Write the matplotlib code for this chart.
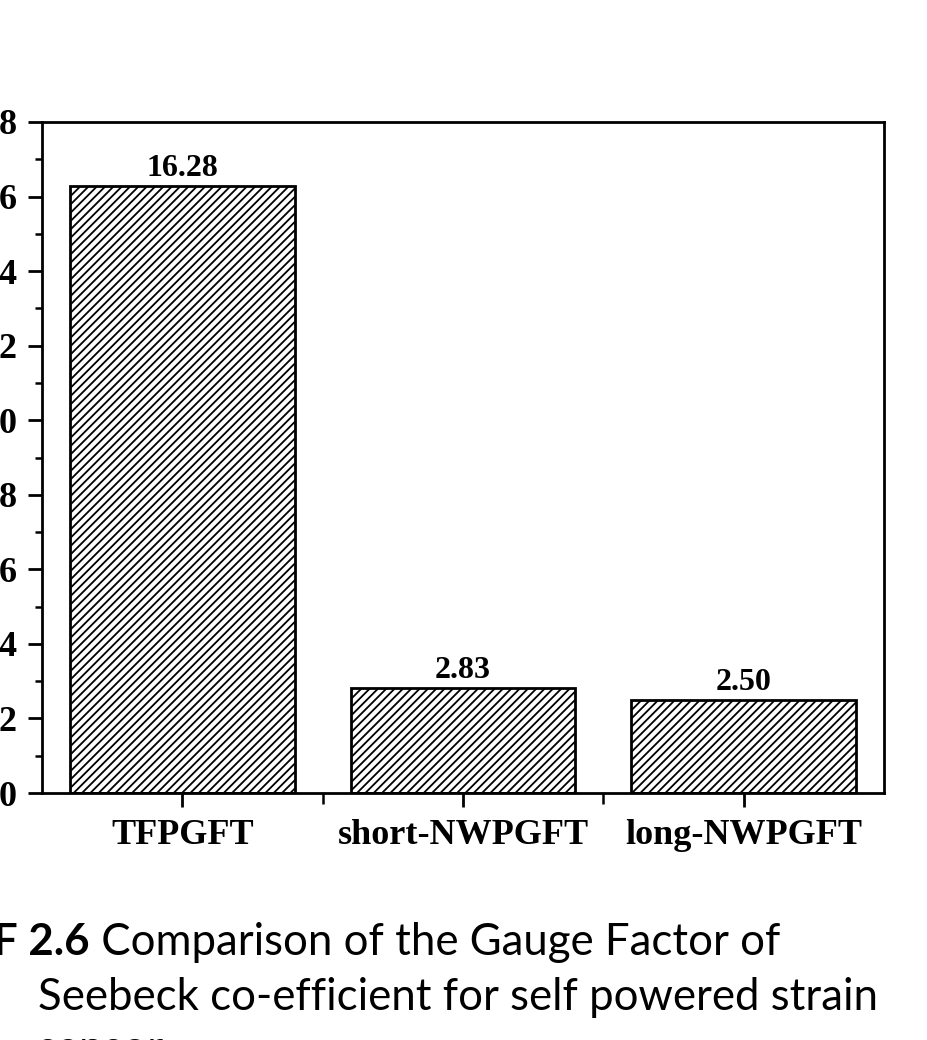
import matplotlib
matplotlib.use("Agg")
import matplotlib.pyplot as plt
from matplotlib.ticker import MultipleLocator, FixedLocator

categories = ["TFPGFT", "short-NWPGFT", "long-NWPGFT"]
gauge_factor = [16.28, 2.83, 2.50]
y_ticks = [0, 2, 4, 6, 8, 10, 12, 14, 16, 18]
caption_tag = "F 2.6"
caption_line1 = " Comparison of the Gauge Factor of"
caption_line2 = "Seebeck co-efficient for self powered strain"
caption_line3 = "sensor"

W, H = 928, 1040
plt.rcParams["hatch.linewidth"] = 1.3
serif = ["Liberation Serif", "DejaVu Serif"]

fig = plt.figure(figsize=(W / 100, H / 100), dpi=100)
ax = fig.add_axes([42 / W, 1 - 793 / H, (884 - 42) / W, (793 - 122) / H])

x = list(range(len(categories)))
bars = ax.bar(x, gauge_factor, width=0.8, color="white", edgecolor="black",
              hatch="////", linewidth=2.0, zorder=2)

for xi, v in zip(x, gauge_factor):
    ax.annotate(f"{v:.2f}", (xi, v), xytext=(0, 2), textcoords="offset points",
                ha="center", va="bottom", fontsize=23, fontweight="bold",
                family=serif)

ax.set_xlim(-0.5, 2.5)
ax.set_ylim(0, 18)
ax.set_xticks(x)
ax.set_xticklabels(categories, fontsize=26, fontweight="bold", family=serif)
ax.xaxis.set_minor_locator(FixedLocator([0.5, 1.5]))
ax.set_yticks(y_ticks)
ax.set_yticklabels([str(t) for t in y_ticks], fontsize=26, fontweight="bold",
                   family=serif)
ax.yaxis.set_minor_locator(MultipleLocator(1))

ax.tick_params(axis="y", which="major", direction="out", length=10, width=2,
               pad=8)
ax.tick_params(axis="y", which="minor", direction="out", length=5, width=1.8)
ax.tick_params(axis="x", which="major", direction="out", length=10, width=2,
               pad=9)
ax.tick_params(axis="x", which="minor", direction="out", length=8, width=1.8)
for s in ax.spines.values():
    s.set_linewidth(2.0)

# figure caption beneath the plot
cap_font = ["Lato", "DejaVu Sans"]
t1 = fig.text(-7 / W, 1 - 955 / H, caption_tag, fontsize=31.5, fontweight="bold",
              family=cap_font, ha="left", va="baseline")
fig.canvas.draw()
bb = t1.get_window_extent()
fig.text(bb.x1 / W, 1 - 955 / H, caption_line1, fontsize=31.5, family=cap_font,
         ha="left", va="baseline")
fig.text(38 / W, 1 - 1010 / H, caption_line2, fontsize=31.5, family=cap_font,
         ha="left", va="baseline")
fig.text(38 / W, 1 - 1062 / H, caption_line3, fontsize=31.5, family=cap_font,
         ha="left", va="baseline")

fig.savefig("out.png", dpi=100)
